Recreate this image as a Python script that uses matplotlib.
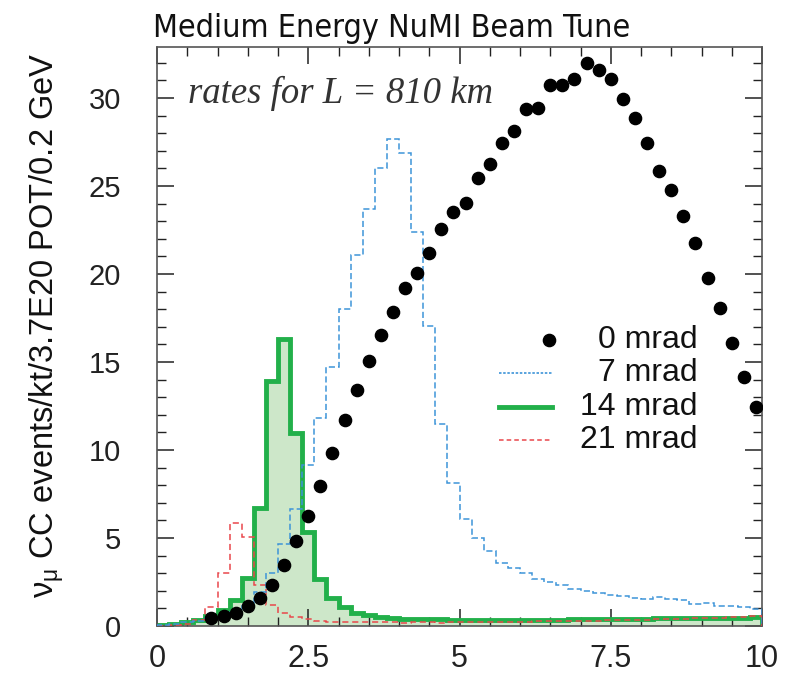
import numpy as np
import matplotlib
matplotlib.use("Agg")
import matplotlib.pyplot as plt
from matplotlib.ticker import MultipleLocator
from matplotlib.lines import Line2D
from matplotlib import font_manager as fm

# ---- data ----
bin_edges = np.round(np.arange(0, 10.0001, 0.2), 1)

rate_7mrad = [0.05, 0.1, 0.2, 0.3, 0.45, 0.6, 0.8, 1.15, 1.95, 3.03,
              4.66, 6.65, 9.15, 11.8, 14.7, 18.0, 21.1, 23.7, 26.0, 27.7,
              26.9, 22.4, 17.05, 11.5, 8.1, 6.06, 4.98, 4.28, 3.6, 3.28,
              2.99, 2.65, 2.52, 2.33, 2.08, 2.0, 1.86, 1.76, 1.70, 1.61,
              1.52, 1.67, 1.52, 1.48, 1.25, 1.32, 1.14, 1.14, 1.10, 0.95]

rate_14mrad = [0.05, 0.1, 0.2, 0.35, 0.55, 0.9, 1.5, 2.7, 6.7, 13.9,
               16.3, 10.95, 5.36, 2.65, 1.61, 1.06, 0.76, 0.62, 0.53, 0.47,
               0.42, 0.40, 0.38, 0.37, 0.36, 0.35, 0.33, 0.33, 0.33, 0.33,
               0.34, 0.34, 0.35, 0.36, 0.38, 0.37, 0.38, 0.38, 0.40, 0.40,
               0.42, 0.43, 0.44, 0.44, 0.45, 0.45, 0.46, 0.46, 0.48, 0.50]

rate_21mrad = [0.02, 0.05, 0.1, 0.35, 1.1, 3.0, 5.83, 5.07, 2.33, 1.19,
               0.76, 0.53, 0.38, 0.28, 0.24, 0.22, 0.20, 0.20, 0.20, 0.20,
               0.19, 0.20, 0.20, 0.18, 0.20, 0.20, 0.22, 0.22, 0.22, 0.24,
               0.25, 0.26, 0.27, 0.28, 0.30, 0.30, 0.30, 0.32, 0.34, 0.34,
               0.36, 0.38, 0.40, 0.42, 0.44, 0.46, 0.48, 0.50, 0.52, 0.55]

energy_0mrad = [0.9, 1.1, 1.3, 1.5, 1.7, 1.9, 2.1, 2.3, 2.5, 2.7,
                2.9, 3.1, 3.3, 3.5, 3.7, 3.9, 4.1, 4.3, 4.5, 4.7,
                4.9, 5.1, 5.3, 5.5, 5.7, 5.9, 6.1, 6.3, 6.5, 6.7,
                6.9, 7.1, 7.3, 7.5, 7.7, 7.9, 8.1, 8.3, 8.5, 8.7,
                8.9, 9.1, 9.3, 9.5, 9.7, 9.9]
rate_0mrad = [0.44, 0.57, 0.72, 1.14, 1.57, 2.33, 3.47, 4.83, 6.25, 7.95,
              9.81, 11.7, 13.4, 15.07, 16.53, 17.86, 19.18, 20.04, 21.2, 22.54,
              23.52, 24.05, 25.43, 26.25, 27.42, 28.14, 29.36, 29.41, 30.74, 30.74,
              31.06, 32.0, 31.59, 31.06, 29.93, 28.85, 27.42, 25.87, 24.77, 23.3,
              21.78, 19.76, 18.09, 16.1, 14.17, 12.42]

legend_labels = ["0 mrad", "7 mrad", "14 mrad", "21 mrad"]
xtick_vals = [0, 2.5, 5, 7.5, 10]
xtick_labels = ["0", "2.5", "5", "7.5", "10"]
ytick_vals = [0, 5, 10, 15, 20, 25, 30]

title = "Medium Energy NuMI Beam Tune"
ylabel = r"$\nu_\mu$ CC events/kt/3.7E20 POT/0.2 GeV"
note = "rates for L = 810 km"

# ---- style ----
C_BLUE = "#3d94d8"
C_GREEN = "#22b04a"
C_FILL = "#cde7c9"
C_RED = "#e9474b"
SANS = ["Liberation Sans", "DejaVu Sans"]

# pick a condensed face if one is installed
cond_family, cond_stretch, cond_size = "Liberation Sans", "normal", 20
for f in fm.fontManager.ttflist:
    if f.stretch in ("condensed", "semi-condensed") or "Narrow" in f.name or "Condensed" in f.name:
        cond_family = f.name
        cond_stretch = f.stretch
        cond_size = 23
        break

plt.rcParams["mathtext.fontset"] = "custom"
plt.rcParams["mathtext.rm"] = "Liberation Sans"
plt.rcParams["mathtext.it"] = "Liberation Sans"

fig = plt.figure(figsize=(7.89, 6.81), dpi=100)
ax = fig.add_axes([157/789, 1-626/681, (762-157)/789, (626-47)/681])

ax.stairs(rate_14mrad, bin_edges, fill=True, color=C_FILL, zorder=1)
ax.stairs(rate_14mrad, bin_edges, color=C_GREEN, lw=3.5, zorder=2)
ax.stairs(rate_21mrad, bin_edges, color=C_RED, lw=1.1, ls=(0, (4, 2.5)), zorder=3)
ax.stairs(rate_7mrad, bin_edges, color=C_BLUE, lw=1.1, ls=(0, (4, 2)), zorder=4)
ax.plot(energy_0mrad, rate_0mrad, "o", color="black", ms=8.8, zorder=5)

ax.set_xlim(0, 10)
ax.set_ylim(0, 32.9)
ax.set_xticks(xtick_vals)
ax.set_xticklabels(xtick_labels)
ax.set_yticks(ytick_vals)
ax.xaxis.set_minor_locator(MultipleLocator(0.5))
ax.yaxis.set_minor_locator(MultipleLocator(1))
ax.tick_params(which="both", direction="in", top=True, right=True, colors="#222222")
ax.tick_params(which="major", length=12, width=1.1)
ax.tick_params(which="minor", length=6.5, width=1.0)
ax.tick_params(axis="x", pad=13)
ax.tick_params(axis="y", pad=26)
for lab in ax.get_xticklabels():
    lab.set_fontfamily(SANS)
    lab.set_fontsize(22)
for lab in ax.get_yticklabels():
    lab.set_fontfamily(SANS)
    lab.set_fontsize(21)
for sp in ax.spines.values():
    sp.set_color("#555555")
    sp.set_linewidth(1.2)

fig.text(153/789, 1-37/681, title, ha="left", va="baseline",
         fontsize=cond_size, family=[cond_family, "DejaVu Sans"],
         stretch=cond_stretch, color="#111111")
fig.text(47/789, 0.523, ylabel, rotation=90, ha="center", va="center",
         fontsize=23.5, family=SANS, color="#111111")
ax.text(0.051, 0.903, note, transform=ax.transAxes, ha="left", va="baseline",
        fontsize=26.5, family=["Liberation Serif", "DejaVu Serif"], style="italic",
        color="#333333")

# legend (manual, right-aligned text)
rows = [0.494, 0.437, 0.378, 0.321]
handles = [dict(marker="o", ls="none", color="black", ms=8.8),
           dict(ls=(0, (1.5, 1)), color=C_BLUE, lw=1.2),
           dict(ls="-", color=C_GREEN, lw=3.5),
           dict(ls=(0, (3, 2)), color=C_RED, lw=1.1)]
for yy, lab, h in zip(rows, legend_labels, handles):
    if h.get("marker"):
        ax.add_line(Line2D([0.648], [yy], transform=ax.transAxes, **h))
    else:
        ax.add_line(Line2D([0.566, 0.653], [yy, yy], transform=ax.transAxes, **h))
    ax.text(0.894, yy, lab, transform=ax.transAxes, ha="right", va="center",
            fontsize=23, family=SANS, color="#111111")

fig.savefig("out.png", dpi=100)
